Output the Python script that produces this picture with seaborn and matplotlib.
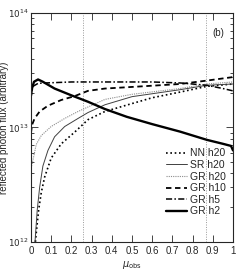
import matplotlib
matplotlib.use("Agg")
import matplotlib.pyplot as plt
import matplotlib.ticker as mticker
import seaborn as sns
import pandas as pd

# readings from the reference (mu_obs, reflected flux)
nn_h20_x = [0.022, 0.026, 0.038, 0.051, 0.068, 0.1, 0.15, 0.216, 0.282, 0.366, 0.474, 0.6,
            0.738, 0.87, 1.0]
nn_h20_y = [1.0e12, 1.19e12, 1.9e12, 2.7e12, 3.7e12, 5.4e12, 7.2e12, 9.1e12, 1.17e13, 1.38e13,
            1.57e13, 1.82e13, 2.04e13, 2.29e13, 2.4e13]

sr_h20_x = [0.02, 0.031, 0.043, 0.059, 0.084, 0.117, 0.167, 0.233, 0.282, 0.366, 0.5, 0.738,
            0.87, 1.0]
sr_h20_y = [1.0e12, 1.9e12, 3.0e12, 4.6e12, 6.3e12, 8.3e12, 1.02e13, 1.2e13, 1.35e13, 1.58e13,
            1.86e13, 2.14e13, 2.34e13, 2.4e13]

gr_h20_x = [0.003, 0.01, 0.026, 0.051, 0.1, 0.167, 0.233, 0.282, 0.366, 0.5, 0.738, 0.87, 1.0]
gr_h20_y = [4.6e12, 5.2e12, 7.1e12, 8.5e12, 1.02e13, 1.2e13, 1.38e13, 1.51e13, 1.76e13, 1.95e13,
            2.19e13, 2.4e13, 2.5e13]

gr_h10_x = [0.0, 0.005, 0.018, 0.043, 0.084, 0.15, 0.216, 0.282, 0.366, 0.55, 0.738, 0.87,
            0.994, 1.0]
gr_h10_y = [8.9e12, 1.05e13, 1.2e13, 1.38e13, 1.55e13, 1.74e13, 1.88e13, 2.09e13, 2.19e13,
            2.29e13, 2.4e13, 2.57e13, 2.75e13, 2.88e13]

gr_h5_x = [0.0, 0.003, 0.01, 0.035, 0.07, 0.2, 0.4, 0.6, 0.74, 0.87, 0.95, 1.0]
gr_h5_y = [1.78e13, 2.0e13, 2.29e13, 2.43e13, 2.45e13, 2.5e13, 2.5e13, 2.5e13, 2.45e13,
           2.34e13, 2.19e13, 2.09e13]

gr_h2_x = [0.0, 0.005, 0.015, 0.035, 0.059, 0.117, 0.2, 0.282, 0.366, 0.474, 0.6, 0.738, 0.87,
           0.95, 0.99, 1.0]
gr_h2_y = [1.91e13, 2.19e13, 2.51e13, 2.63e13, 2.51e13, 2.19e13, 1.91e13, 1.68e13, 1.45e13,
           1.24e13, 1.07e13, 9.2e12, 7.8e12, 7.2e12, 6.9e12, 6.3e12]

view_angles = [0.259, 0.866]  # vertical dotted markers
x_ticks = [0, 0.1, 0.2, 0.3, 0.4, 0.5, 0.6, 0.7, 0.8, 0.9, 1]
x_tick_labels = ["0", "0.1", "0.2", "0.3", "0.4", "0.5", "0.6", "0.7", "0.8", "0.9", "1"]

sns.set_style("ticks", {"xtick.direction": "in", "ytick.direction": "in"})
plt.rcParams["font.family"] = ["Liberation Sans Narrow", "Liberation Sans", "DejaVu Sans"]
plt.rcParams["mathtext.fontset"] = "custom"
plt.rcParams["mathtext.rm"] = "Liberation Sans Narrow"
plt.rcParams["mathtext.it"] = "Liberation Sans Narrow:italic"

fig = plt.figure(figsize=(2.4, 2.73), dpi=100)
ax = fig.add_axes([0.129, 0.114, 0.842, 0.838])

series = [
    ("NN h20", nn_h20_x, nn_h20_y, dict(color="black", lw=1.2, ls=(0, (1, 1.6)))),
    ("SR h20", sr_h20_x, sr_h20_y, dict(color="0.25", lw=0.7, ls="-")),
    ("GR h20", gr_h20_x, gr_h20_y, dict(color="0.55", lw=0.8, ls=(0, (1, 1)))),
    ("GR h10", gr_h10_x, gr_h10_y, dict(color="black", lw=1.3, ls=(0, (3, 2)))),
    ("GR h5", gr_h5_x, gr_h5_y, dict(color="black", lw=1.1, ls=(0, (4, 1.5, 1, 1.5)))),
    ("GR h2", gr_h2_x, gr_h2_y, dict(color="black", lw=1.7, ls="-")),
]

for name, xs, ys, style in series:
    df = pd.DataFrame({"mu": xs, "flux": ys})
    sns.lineplot(data=df, x="mu", y="flux", ax=ax, label=name, **style)

for xv in view_angles:
    ax.axvline(xv, color="0.6", lw=0.7, ls=(0, (1, 1.5)), zorder=0)

ax.set_yscale("log")
ax.set_xlim(0, 1)
ax.set_ylim(1e12, 1e14)
ax.set_xticks(x_ticks)
ax.set_xticklabels(x_tick_labels)
ax.yaxis.set_major_locator(mticker.FixedLocator([1e12, 1e13, 1e14]))
ax.yaxis.set_major_formatter(mticker.FixedFormatter([r"$10^{12}$", r"$10^{13}$", r"$10^{14}$"]))
ax.yaxis.set_minor_locator(mticker.LogLocator(base=10, subs=range(2, 10)))
ax.yaxis.set_minor_formatter(mticker.NullFormatter())

ax.tick_params(which="both", direction="in", top=True, right=True, labelsize=7, width=0.6)
ax.tick_params(which="major", length=5, pad=3)
ax.tick_params(which="minor", length=2.5)
ax.tick_params(axis="y", which="major", labelsize=6.3, pad=2)
for s in ax.spines.values():
    s.set_linewidth(0.8)

ax.set_xlabel(r"$\mu_{\rm obs}$", fontsize=7, labelpad=2)
ax.set_ylabel("reflected photon flux (arbitrary)", fontsize=7, family="Liberation Sans")
ax.yaxis.set_label_coords(-0.108, 0.5)
ax.text(0.925, 0.915, "(b)", transform=ax.transAxes, fontsize=7, ha="center", va="center")

ax.legend(loc="lower right", bbox_to_anchor=(1.0, 0.08), frameon=False, fontsize=7.5,
          handlelength=2.0, handletextpad=0.3, labelspacing=0.15, borderpad=0.2)

fig.savefig("out.png", dpi=100)
